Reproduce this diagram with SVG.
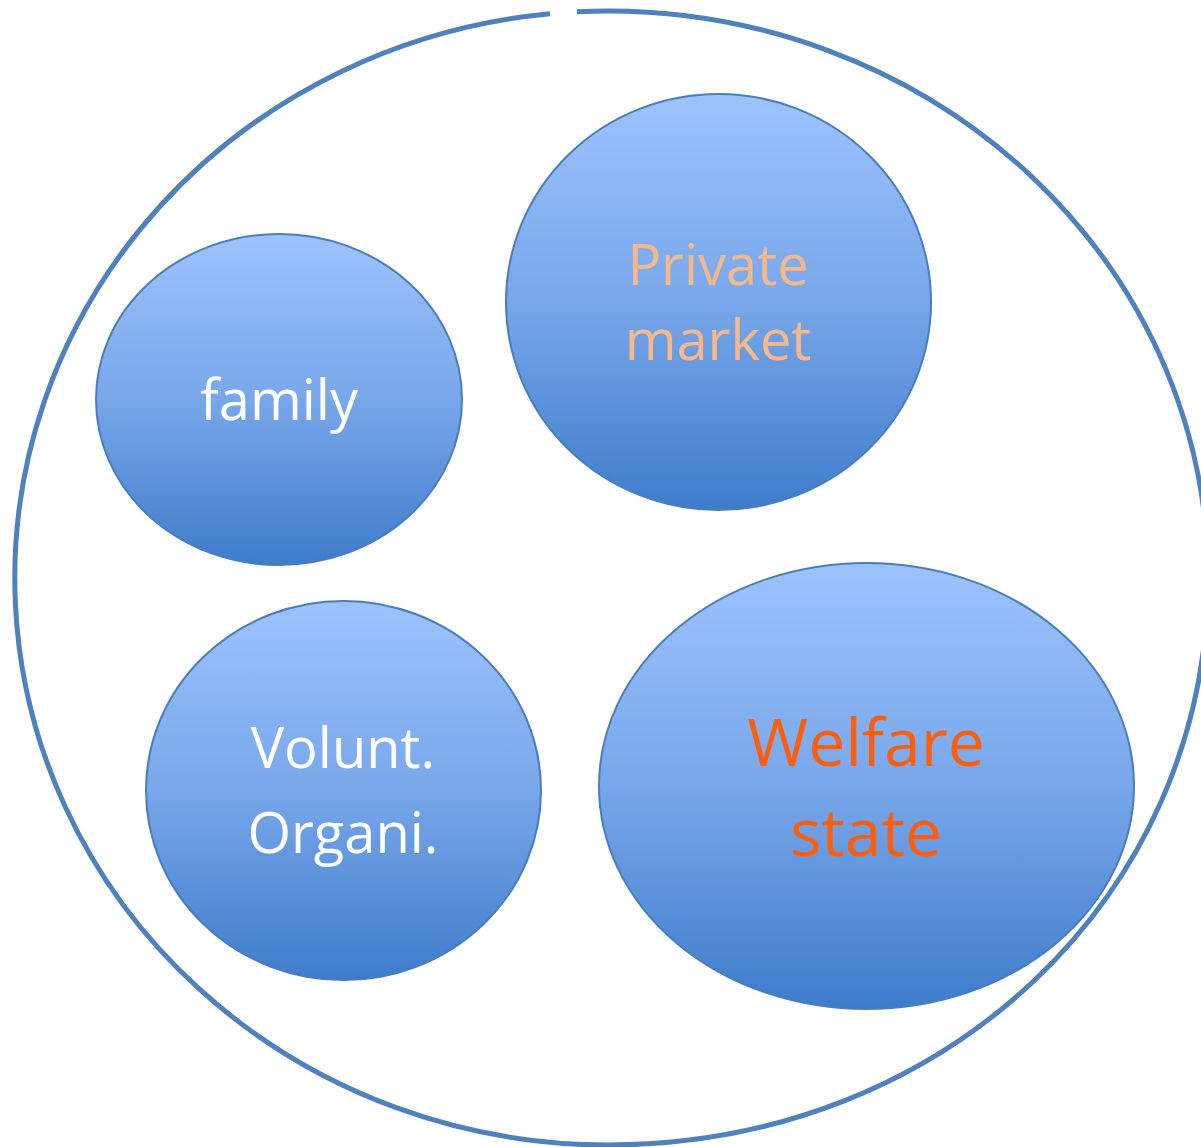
<svg xmlns="http://www.w3.org/2000/svg" width="1201" height="1147" viewBox="0 0 1201 1147">
  <defs>
    <linearGradient id="bubbleFill" x1="0" y1="0" x2="0" y2="1">
      <stop offset="0" stop-color="#9DC3FD"/>
      <stop offset="0.5" stop-color="#78A7EA"/>
      <stop offset="1" stop-color="#3E7CCA"/>
    </linearGradient>
  </defs>
  <style>
    .ring { fill: none; stroke: #4F81BD; stroke-width: 5; }
    .bubble { fill: url(#bubbleFill); stroke: #4A7DBE; stroke-width: 2; }
    .label { font-family: "Open Sans", "Noto Sans", sans-serif; text-anchor: middle; }
    .white { fill: #FFFFFF; font-size: 56px; }
    .pale { fill: #F8B88A; font-size: 56px; }
    .strong { fill: #FF5F0C; font-size: 66px; }
  </style>

  <rect width="1201" height="1147" fill="#FFFFFF"/>

  <!-- enclosing ring, open at the top; right side runs past the edge -->
  <g id="connectors">
    <path class="ring" d="M577,11.8 A593,567 0 0,1 608,11 A600,567 0 0,1 1208,578 C1208,896 944,1145 608,1145 A593,567 0 0,1 550,13.7"/>
  </g>

  <g id="family">
    <ellipse class="bubble" cx="279" cy="399.5" rx="183" ry="165.5"/>
    <text class="label white" x="279" y="420">family</text>
  </g>

  <g id="private-market">
    <ellipse class="bubble" cx="718.5" cy="302" rx="212.5" ry="208"/>
    <text class="label pale" x="718" y="285">Private</text>
    <text class="label pale" x="718" y="360">market</text>
  </g>

  <g id="voluntary-organisations">
    <ellipse class="bubble" cx="343.5" cy="790.5" rx="197.5" ry="189.5"/>
    <text class="label white" x="343" y="768">Volunt.</text>
    <text class="label white" x="343" y="853">Organi.</text>
  </g>

  <g id="welfare-state">
    <ellipse class="bubble" cx="866.5" cy="786" rx="267.5" ry="223"/>
    <text class="label strong" x="866" y="766">Welfare</text>
    <text class="label strong" x="866" y="856">state</text>
  </g>
</svg>
